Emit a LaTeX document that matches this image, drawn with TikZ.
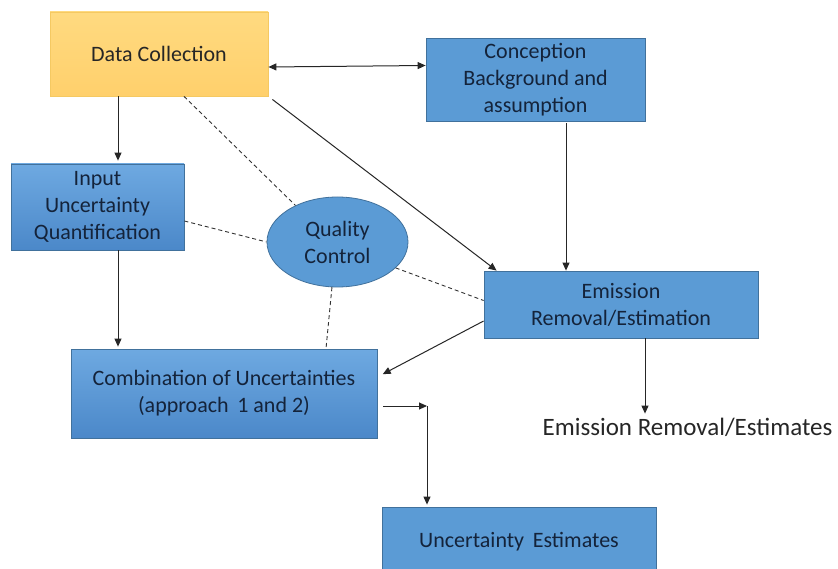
\documentclass[tikz,border=0pt]{standalone}
\usepackage{fontspec}
\setmainfont{Carlito}
\usetikzlibrary{arrows.meta,calc,shapes.geometric}
\definecolor{boxblue}{HTML}{5B9BD5}
\definecolor{boxblueL}{HTML}{6EA9E1}
\definecolor{boxblueD}{HTML}{4B88C9}
\definecolor{boxedge}{HTML}{41719C}
\definecolor{gold}{HTML}{FFDA80}
\definecolor{goldD}{HTML}{FFD06C}
\definecolor{goldedge}{HTML}{F5C962}
\definecolor{ink}{HTML}{14233A}
\tikzset{
  x=1pt, y=-1pt,
  txt/.style={font=\fontsize{22}{27}\selectfont, text=ink, align=center},
  bluebox/.style={txt, rectangle, draw=boxedge, line width=0.8pt, fill=boxblue, inner sep=0pt},
  gradbox/.style={bluebox, top color=boxblueL, bottom color=boxblueD},
  goldbox/.style={txt, text=black!85, rectangle, draw=goldedge, line width=0.8pt, top color=gold, bottom color=goldD, inner sep=0pt},
  tip/.style={Triangle[length=8pt,width=7pt]},
  arr/.style={-{Triangle[length=8pt,width=7pt]}, line width=1pt, black!85},
  darr/.style={{Triangle[length=8pt,width=7pt]}-{Triangle[length=8pt,width=7pt]}, line width=1pt, black!85},
  dline/.style={dash pattern=on 4pt off 3pt, line width=0.9pt, black!80},
}
\begin{document}
\begin{tikzpicture}
\useasboundingbox (0,0) rectangle (838,569);
\fill[white] (0,0) rectangle (838,569);

% boxes
\node[goldbox, minimum width=218pt, minimum height=84pt] (dc) at (159,54) {Data Collection};
\node[bluebox, minimum width=219pt, minimum height=83pt] (conc) at (535.5,79.5) {Conception\\Background and\\assumption};
\node[gradbox, minimum width=173pt, minimum height=86pt] (inp) at (97.5,207) {Input\\Uncertainty\\Quantification};
\node[txt, ellipse, draw=boxedge, line width=0.8pt, fill=boxblue, minimum width=141pt, minimum height=90pt, inner sep=0pt] (qc) at (337.5,242) {Quality\\Control};
\node[bluebox, minimum width=274pt, minimum height=67pt] (em) at (621,304.5) {Emission\\Removal/Estimation};
\node[gradbox, minimum width=306pt, minimum height=89pt] (comb) at (224,393.5) {Combination of Uncertainties\\(approach\, 1 and 2)};
\node[bluebox, minimum width=274pt, minimum height=70pt] (ue) at (519,542) {Uncertainty\, Estimates};
\node[font=\fontsize{25}{30}\selectfont, text=black!85, inner sep=4pt] (out) at (687.5,427) {Emission Removal/Estimates};

% solid connectors
\draw[darr] ([yshift=-13pt]dc.east) -- ([yshift=14pt]conc.west);
\draw[arr, shorten >=3pt] ([xshift=-41pt]dc.south) -- ([xshift=20.5pt]inp.north);
\draw[arr, shorten <=5pt] (dc.south east) -- ([xshift=13pt]em.north west);
\draw[arr, shorten <=2pt] ([xshift=30.5pt]conc.south) -- ([xshift=-55pt]em.north);
\draw[arr, shorten >=2pt] ([xshift=20.5pt]inp.south) -- ([xshift=-106pt]comb.north);
\draw[arr, shorten >=6pt] ([yshift=-16.5pt]em.west) -- ([yshift=16.5pt]comb.east);
\coordinate (elbow) at (427,406);
\draw[arr, shorten <=6pt] ([yshift=-12.5pt]comb.east) -- (elbow);
\draw[arr, shorten >=2pt] (elbow) -- (elbow |- ue.north);
\coordinate (emx) at ([xshift=24pt]em.south);
\draw[arr] (emx) -- (emx |- out.north);

% dashed quality-control links
\draw[dline] ([xshift=25pt]dc.south) -- (qc.139);
\draw[dline] ([yshift=-14pt]inp.east) -- (qc.west);
\draw[dline] (qc.-24) -- ([yshift=4pt]em.west);
\draw[dline] (qc.-97) -- ([xshift=102pt]comb.north);
\end{tikzpicture}
\end{document}
